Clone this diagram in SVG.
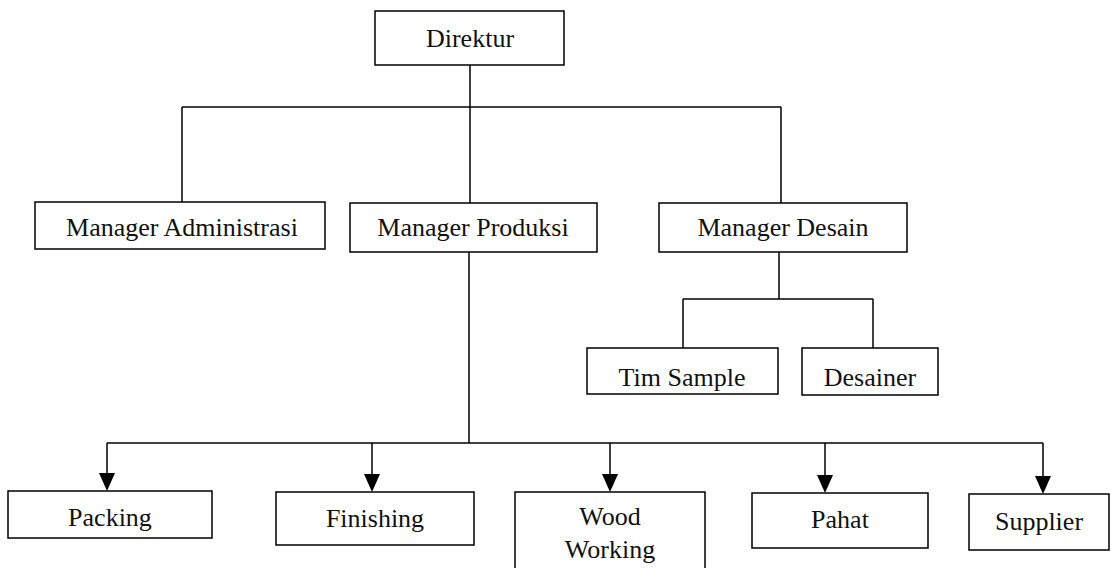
<svg xmlns="http://www.w3.org/2000/svg" width="1111" height="568" viewBox="0 0 1111 568">
<defs>
<style>
.box{fill:#fff;stroke:#000;stroke-width:1.5}
.ln{fill:none;stroke:#000;stroke-width:1.5}
.t{font-family:"Liberation Serif","Times New Roman",serif;font-size:26px;fill:#111;text-anchor:middle}
</style>
</defs>
<rect width="1111" height="568" fill="#fff"/>
<g id="connectors">
<path class="ln" d="M470,65 V203"/>
<path class="ln" d="M182,107 H781"/>
<path class="ln" d="M182,107 V202"/>
<path class="ln" d="M781,107 V203"/>
<path class="ln" d="M469,252 V443"/>
<path class="ln" d="M107,443 H1043"/>
<path class="ln" d="M779,252 V299"/>
<path class="ln" d="M683,299 H873"/>
<path class="ln" d="M683,299 V348"/>
<path class="ln" d="M873,299 V348"/>
<g fill="#000">
<path class="ln" d="M107,443 V474"/><path d="M99,473 H115 L107,491 Z"/>
<path class="ln" d="M372,443 V474"/><path d="M364,474 H380 L372,492 Z"/>
<path class="ln" d="M610,443 V474"/><path d="M602,474 H618 L610,492 Z"/>
<path class="ln" d="M825,443 V475"/><path d="M817,475 H833 L825,493 Z"/>
<path class="ln" d="M1043,443 V476"/><path d="M1035,476 H1051 L1043,494 Z"/>
</g>
</g>
<g id="direktur">
<rect class="box" x="375" y="11" width="189" height="54"/>
<text class="t" x="470" y="47">Direktur</text>
</g>
<g id="manager-administrasi">
<rect class="box" x="35" y="202" width="290" height="47"/>
<text class="t" x="182" y="236">Manager Administrasi</text>
</g>
<g id="manager-produksi">
<rect class="box" x="350" y="203" width="247" height="49"/>
<text class="t" x="473" y="236">Manager Produksi</text>
</g>
<g id="manager-desain">
<rect class="box" x="659" y="203" width="248" height="49"/>
<text class="t" x="783" y="236">Manager Desain</text>
</g>
<g id="tim-sample">
<rect class="box" x="587" y="348" width="191" height="46"/>
<text class="t" x="682" y="386">Tim Sample</text>
</g>
<g id="desainer">
<rect class="box" x="802" y="348" width="136" height="47"/>
<text class="t" x="870" y="386">Desainer</text>
</g>
<g id="packing">
<rect class="box" x="8" y="491" width="204" height="47"/>
<text class="t" x="110" y="526">Packing</text>
</g>
<g id="finishing">
<rect class="box" x="276" y="492" width="198" height="53"/>
<text class="t" x="375" y="527">Finishing</text>
</g>
<g id="wood-working">
<rect class="box" x="515" y="492" width="190" height="85"/>
<text class="t" x="610" y="525">Wood</text>
<text class="t" x="610" y="558">Working</text>
</g>
<g id="pahat">
<rect class="box" x="752" y="493" width="176" height="55"/>
<text class="t" x="840" y="528">Pahat</text>
</g>
<g id="supplier">
<rect class="box" x="969" y="494" width="140" height="56"/>
<text class="t" x="1039" y="530">Supplier</text>
</g>
</svg>
